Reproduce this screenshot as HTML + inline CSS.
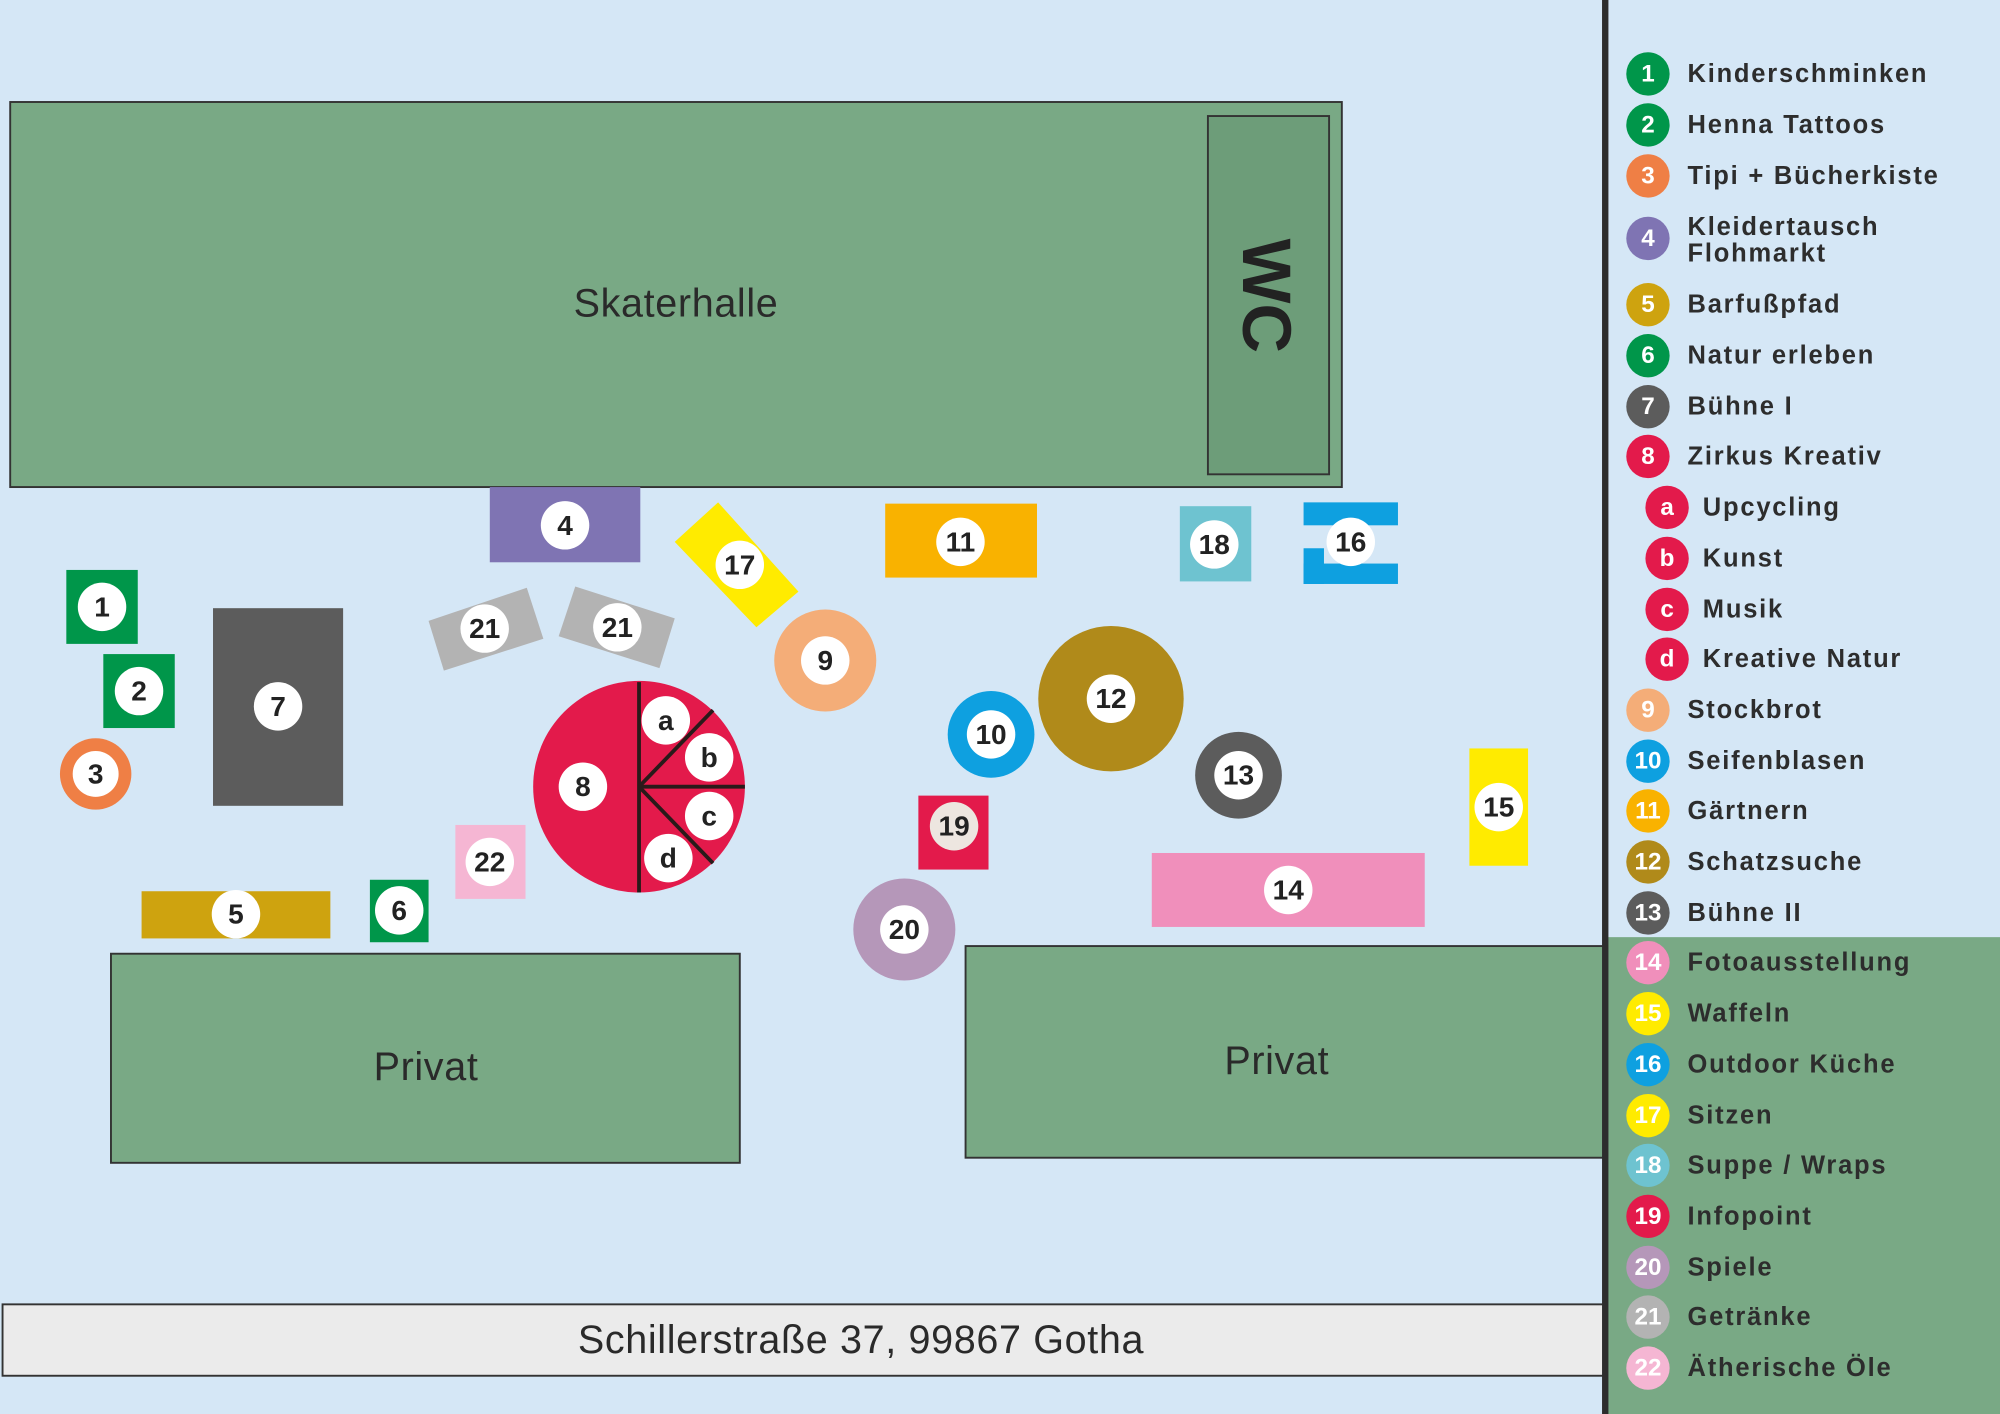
<!DOCTYPE html>
<html><head><meta charset="utf-8"><style>
html,body{margin:0;padding:0;background:#d5e7f6;}
svg{display:block;}
.n{font-family:"Liberation Sans",sans-serif;font-weight:bold;font-size:22px;fill:#222;text-anchor:middle;dominant-baseline:central;}
.ln{font-family:"Liberation Sans",sans-serif;font-weight:bold;font-size:19px;fill:#fff;text-anchor:middle;dominant-baseline:central;}
.lt{font-family:"Liberation Sans",sans-serif;font-weight:bold;font-size:20px;fill:#2d2d2d;dominant-baseline:central;letter-spacing:1.4px;}
.big{font-family:"Liberation Sans",sans-serif;font-size:31px;fill:#2a2a2a;text-anchor:middle;dominant-baseline:central;letter-spacing:0.5px;}
</style></head><body>
<svg width="2000" height="1414" viewBox="0 0 1568 1109" preserveAspectRatio="none" xmlns="http://www.w3.org/2000/svg">
<rect x="0" y="0" width="1568" height="1109" fill="#d5e7f6"/>
<rect x="1260" y="735" width="308" height="374" fill="#79a985"/>
<rect x="8" y="80" width="1044" height="302" fill="#79a985" stroke="#333" stroke-width="1.5"/>
<rect x="947" y="91" width="95" height="281" fill="#6d9d79" stroke="#333" stroke-width="1.5"/>
<text class="big" x="530" y="238">Skaterhalle</text>
<text x="993" y="232" font-family="Liberation Sans, sans-serif" font-weight="bold" font-size="54" fill="#222" text-anchor="middle" dominant-baseline="central" transform="rotate(90 993 232)">WC</text>
<rect x="87" y="748" width="493" height="164" fill="#79a985" stroke="#333" stroke-width="1.5"/>
<text class="big" x="334" y="837">Privat</text>
<rect x="757" y="742" width="503" height="166" fill="#79a985" stroke="#333" stroke-width="1.5"/>
<text class="big" x="1001" y="832">Privat</text>
<rect x="2" y="1023" width="1256" height="56" fill="#ebebeb" stroke="#333" stroke-width="1.5"/>
<text class="big" x="675" y="1051" font-size="32">Schillerstraße 37, 99867 Gotha</text>
<rect x="1256" y="0" width="5" height="1109" fill="#2d2d2d"/>

<rect x="384" y="382" width="118" height="59" fill="#7f74b3"/>
<polygon points="563,394 626,464 593,492 529,425" fill="#ffeb00"/>
<rect x="694" y="395" width="119" height="58" fill="#f9b200"/>
<rect x="925" y="397" width="56" height="59" fill="#6ec3d0"/>
<rect x="1022" y="394" width="74" height="18" fill="#0ea0e0"/>
<rect x="1022" y="442" width="74" height="16" fill="#0ea0e0"/>
<rect x="1022" y="430" width="16" height="28" fill="#0ea0e0"/>
<rect x="52" y="447" width="56" height="58" fill="#00964a"/>
<rect x="81" y="513" width="56" height="58" fill="#00964a"/>
<circle cx="75" cy="607" r="28" fill="#ef7f45"/>
<rect x="167" y="477" width="102" height="155" fill="#5c5c5c"/>
<polygon points="336,487 413,461 426,501 348,526" fill="#b3b3b3"/>
<polygon points="451,460 529,485 517,524 438,499" fill="#b3b3b3"/>
<circle cx="647" cy="518" r="40" fill="#f4ad78"/>
<circle cx="501" cy="617" r="83" fill="#e31a4b"/>
<g stroke="#2a1a1a" stroke-width="3">
<line x1="501" y1="535" x2="501" y2="700"/>
<line x1="501" y1="617" x2="584" y2="617"/>
<line x1="501" y1="617" x2="559" y2="557"/>
<line x1="501" y1="617" x2="559" y2="677"/>
</g>
<circle cx="777" cy="576" r="34" fill="#0ea0e0"/>
<circle cx="871" cy="548" r="57" fill="#b08a1a"/>
<circle cx="971" cy="608" r="34" fill="#5c5c5c"/>
<rect x="1152" y="587" width="46" height="92" fill="#ffeb00"/>
<rect x="903" y="669" width="214" height="58" fill="#f08fbb"/>
<rect x="720" y="624" width="55" height="58" fill="#e31a4b"/>
<circle cx="709" cy="729" r="40" fill="#b597b9"/>
<rect x="357" y="647" width="55" height="58" fill="#f5b6d3"/>
<rect x="111" y="699" width="148" height="37" fill="#cea30f"/>
<rect x="290" y="690" width="46" height="49" fill="#00964a"/>

<g fill="#fff">
<circle cx="443" cy="412" r="19"/><circle cx="580" cy="443" r="19"/><circle cx="753" cy="425" r="19"/>
<circle cx="952" cy="427" r="19"/><circle cx="1059" cy="425" r="19"/><circle cx="80" cy="476" r="19"/>
<circle cx="109" cy="542" r="19"/><circle cx="75" cy="607" r="18"/><circle cx="218" cy="554" r="19"/>
<circle cx="380" cy="493" r="19"/><circle cx="484" cy="492" r="19"/><circle cx="647" cy="518" r="19"/>
<circle cx="457" cy="617" r="19"/><circle cx="522" cy="565" r="19"/><circle cx="556" cy="594" r="19"/>
<circle cx="556" cy="640" r="19"/><circle cx="524" cy="673" r="19"/><circle cx="777" cy="576" r="19"/>
<circle cx="871" cy="548" r="19"/><circle cx="971" cy="608" r="19"/><circle cx="1175" cy="633" r="19"/>
<circle cx="1010" cy="698" r="19"/><circle cx="748" cy="648" r="19" fill="#ede6e0"/><circle cx="709" cy="729" r="19"/>
<circle cx="384" cy="676" r="19"/><circle cx="185" cy="717" r="19"/><circle cx="313" cy="714" r="19"/>
</g>
<g>
<text class="n" x="443" y="412">4</text><text class="n" x="580" y="443">17</text><text class="n" x="753" y="425">11</text>
<text class="n" x="952" y="427">18</text><text class="n" x="1059" y="425">16</text><text class="n" x="80" y="476">1</text>
<text class="n" x="109" y="542">2</text><text class="n" x="75" y="607">3</text><text class="n" x="218" y="554">7</text>
<text class="n" x="380" y="493">21</text><text class="n" x="484" y="492">21</text><text class="n" x="647" y="518">9</text>
<text class="n" x="457" y="617">8</text><text class="n" x="522" y="565">a</text><text class="n" x="556" y="594">b</text>
<text class="n" x="556" y="640">c</text><text class="n" x="524" y="673">d</text><text class="n" x="777" y="576">10</text>
<text class="n" x="871" y="548">12</text><text class="n" x="971" y="608">13</text><text class="n" x="1175" y="633">15</text>
<text class="n" x="1010" y="698">14</text><text class="n" x="748" y="648">19</text><text class="n" x="709" y="729">20</text>
<text class="n" x="384" y="676">22</text><text class="n" x="185" y="717">5</text><text class="n" x="313" y="714">6</text>
</g>

<g>
<circle cx="1292" cy="58" r="17" fill="#00964a"/><text class="ln" x="1292" y="58">1</text><text class="lt" x="1323" y="58">Kinderschminken</text>
<circle cx="1292" cy="98" r="17" fill="#00964a"/><text class="ln" x="1292" y="98">2</text><text class="lt" x="1323" y="98">Henna Tattoos</text>
<circle cx="1292" cy="138" r="17" fill="#ef7f45"/><text class="ln" x="1292" y="138">3</text><text class="lt" x="1323" y="138">Tipi + Bücherkiste</text>
<circle cx="1292" cy="187" r="17" fill="#7f74b3"/><text class="ln" x="1292" y="187">4</text><text class="lt" x="1323" y="178">Kleidertausch</text><text class="lt" x="1323" y="199">Flohmarkt</text>
<circle cx="1292" cy="239" r="17" fill="#cea30f"/><text class="ln" x="1292" y="239">5</text><text class="lt" x="1323" y="239">Barfußpfad</text>
<circle cx="1292" cy="279" r="17" fill="#00964a"/><text class="ln" x="1292" y="279">6</text><text class="lt" x="1323" y="279">Natur erleben</text>
<circle cx="1292" cy="319" r="17" fill="#5c5c5c"/><text class="ln" x="1292" y="319">7</text><text class="lt" x="1323" y="319">Bühne I</text>
<circle cx="1292" cy="358" r="17" fill="#e31a4b"/><text class="ln" x="1292" y="358">8</text><text class="lt" x="1323" y="358">Zirkus Kreativ</text>
<circle cx="1307" cy="398" r="17" fill="#e31a4b"/><text class="ln" x="1307" y="398">a</text><text class="lt" x="1335" y="398">Upcycling</text>
<circle cx="1307" cy="438" r="17" fill="#e31a4b"/><text class="ln" x="1307" y="438">b</text><text class="lt" x="1335" y="438">Kunst</text>
<circle cx="1307" cy="478" r="17" fill="#e31a4b"/><text class="ln" x="1307" y="478">c</text><text class="lt" x="1335" y="478">Musik</text>
<circle cx="1307" cy="517" r="17" fill="#e31a4b"/><text class="ln" x="1307" y="517">d</text><text class="lt" x="1335" y="517">Kreative Natur</text>
<circle cx="1292" cy="557" r="17" fill="#f4ad78"/><text class="ln" x="1292" y="557">9</text><text class="lt" x="1323" y="557">Stockbrot</text>
<circle cx="1292" cy="597" r="17" fill="#0ea0e0"/><text class="ln" x="1292" y="597">10</text><text class="lt" x="1323" y="597">Seifenblasen</text>
<circle cx="1292" cy="636" r="17" fill="#f9b200"/><text class="ln" x="1292" y="636">11</text><text class="lt" x="1323" y="636">Gärtnern</text>
<circle cx="1292" cy="676" r="17" fill="#b08a1a"/><text class="ln" x="1292" y="676">12</text><text class="lt" x="1323" y="676">Schatzsuche</text>
<circle cx="1292" cy="716" r="17" fill="#5c5c5c"/><text class="ln" x="1292" y="716">13</text><text class="lt" x="1323" y="716">Bühne II</text>
<circle cx="1292" cy="755" r="17" fill="#f08fbb"/><text class="ln" x="1292" y="755">14</text><text class="lt" x="1323" y="755">Fotoausstellung</text>
<circle cx="1292" cy="795" r="17" fill="#ffeb00"/><text class="ln" x="1292" y="795">15</text><text class="lt" x="1323" y="795">Waffeln</text>
<circle cx="1292" cy="835" r="17" fill="#0ea0e0"/><text class="ln" x="1292" y="835">16</text><text class="lt" x="1323" y="835">Outdoor Küche</text>
<circle cx="1292" cy="875" r="17" fill="#ffeb00"/><text class="ln" x="1292" y="875">17</text><text class="lt" x="1323" y="875">Sitzen</text>
<circle cx="1292" cy="914" r="17" fill="#6ec3d0"/><text class="ln" x="1292" y="914">18</text><text class="lt" x="1323" y="914">Suppe / Wraps</text>
<circle cx="1292" cy="954" r="17" fill="#e31a4b"/><text class="ln" x="1292" y="954">19</text><text class="lt" x="1323" y="954">Infopoint</text>
<circle cx="1292" cy="994" r="17" fill="#b597b9"/><text class="ln" x="1292" y="994">20</text><text class="lt" x="1323" y="994">Spiele</text>
<circle cx="1292" cy="1033" r="17" fill="#b3b3b3"/><text class="ln" x="1292" y="1033">21</text><text class="lt" x="1323" y="1033">Getränke</text>
<circle cx="1292" cy="1073" r="17" fill="#f5b6d3"/><text class="ln" x="1292" y="1073">22</text><text class="lt" x="1323" y="1073">Ätherische Öle</text>
</g>
</svg>
</body></html>
